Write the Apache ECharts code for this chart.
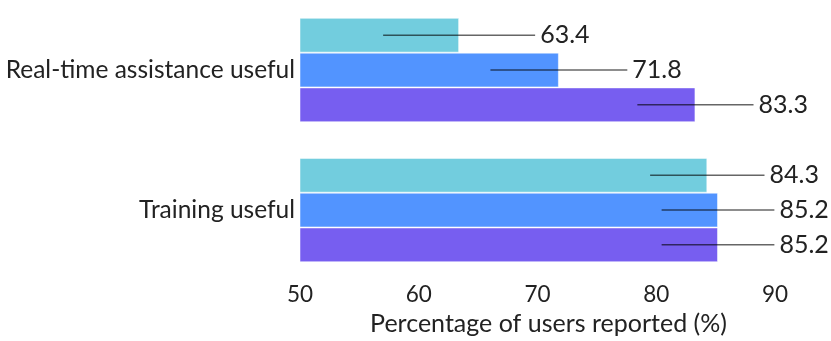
<!DOCTYPE html>
<html>
<head>
<meta charset="utf-8">
<script src="https://cdn.jsdelivr.net/npm/echarts@6/dist/echarts.min.js"></script>
<style>
  html, body { margin: 0; padding: 0; background: #fff; }
  #main { width: 831px; height: 341px; }
</style>
</head>
<body>
<div id="main"></div>
<script>
// categories, top to bottom
var categories = ['Real-time assistance useful', 'Training useful'];
// three series per category (cyan, blue, purple)
var seriesA = [63.4, 84.3];
var seriesB = [71.8, 85.2];
var seriesC = [83.3, 85.2];
var colors = ['#72cdde', '#5294ff', '#775ef0'];
var ticks = [50, 60, 70, 80, 90];

var font = 'Lato';
var chart = echarts.init(document.getElementById('main'));

// leader line half length in px, shorter for longer bars so labels fit
function halfLen(v) {
  return 76 - 0.9 * (v - 63.4);
}

function barSeries(values, color) {
  var items = values.map(function (v) {
    var h = halfLen(v);
    return {
      value: v,
      label: {
        offset: [-h, 0],
        rich: {
          ln: { width: 2 * h, height: 1.5, backgroundColor: 'rgba(0,0,0,0.6)' },
          v: { fontFamily: font, fontSize: 25, color: '#222', padding: [0, 0, 0, 5] }
        }
      }
    };
  });
  return {
    type: 'bar',
    data: items,
    barGap: 0,
    barCategoryGap: '25.5%',
    itemStyle: { color: color, borderColor: 'rgba(255,255,255,0.5)', borderWidth: 1 },
    label: {
      show: true,
      position: 'right',
      distance: 0,
      formatter: function (p) { return '{ln|}{v|' + p.value.toFixed(1) + '}'; }
    }
  };
}

var option = {
  animation: false,
  grid: { left: 300, width: 475, top: -1, height: 283, containLabel: false },
  xAxis: {
    type: 'value',
    min: ticks[0],
    max: ticks[ticks.length - 1],
    interval: 10,
    name: 'Percentage of users reported (%)',
    nameLocation: 'middle',
    nameGap: 29,
    nameTextStyle: { fontFamily: font, fontSize: 25, color: '#222', padding: [0, 0, 0, 22] },
    axisLine: { show: false },
    axisTick: { show: false },
    splitLine: { show: false },
    axisLabel: { fontFamily: font, fontSize: 22.5, color: '#222', margin: 3 }
  },
  yAxis: {
    type: 'category',
    data: categories,
    inverse: true,
    axisLine: { show: false },
    axisTick: { show: false },
    axisLabel: { fontFamily: font, fontSize: 24.5, color: '#222', margin: 5 }
  },
  series: [
    barSeries(seriesA, colors[0]),
    barSeries(seriesB, colors[1]),
    barSeries(seriesC, colors[2])
  ]
};
chart.setOption(option);
</script>
</body>
</html>
